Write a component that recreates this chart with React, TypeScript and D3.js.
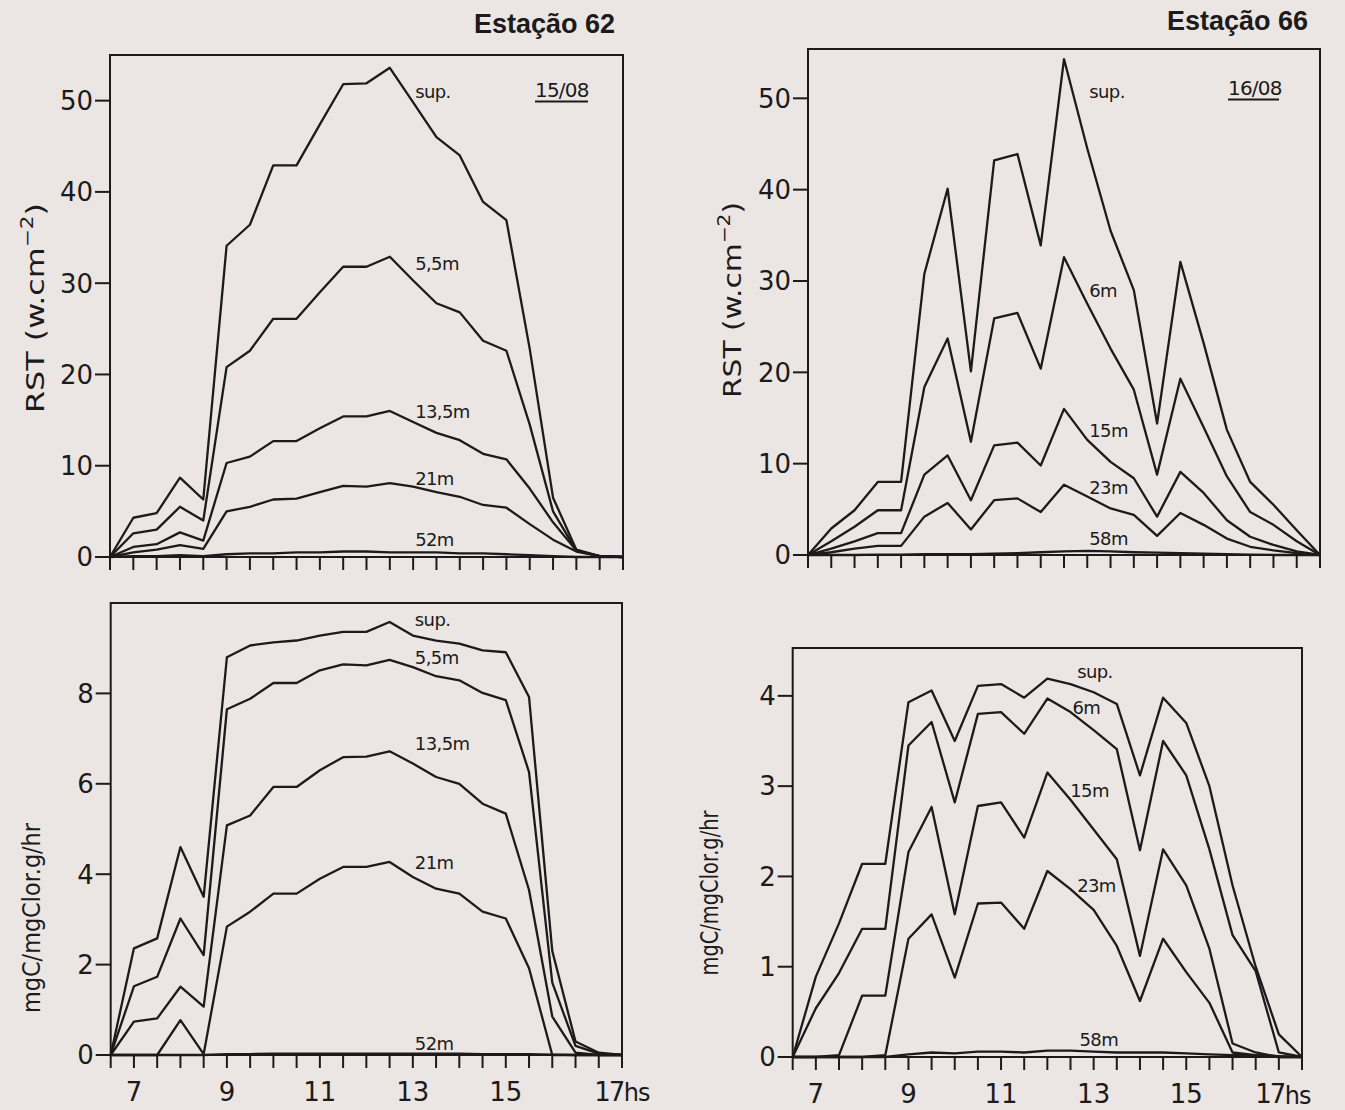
import React from "react";
import * as d3 from "d3";

// half-hour sampling times (hours)
const TIMES = [6.5, 7, 7.5, 8, 8.5, 9, 9.5, 10, 10.5, 11, 11.5, 12, 12.5, 13, 13.5, 14, 14.5, 15, 15.5, 16, 16.5, 17, 17.5];
const HOUR_LABELS = [7, 9, 11, 13, 15];

// Estação 62 - RST (w.cm-2)
const rst62Sup = [0, 4.3, 4.8, 8.7, 6.3, 34.1, 36.4, 42.9, 42.9, 47.4, 51.8, 51.9, 53.6, 49.8, 46.0, 44.0, 38.9, 36.9, 22.8, 6.5, 0.8, 0.1, 0];
const rst62M55 = [0, 2.6, 3.0, 5.5, 4.0, 20.8, 22.6, 26.1, 26.1, 29.0, 31.8, 31.8, 32.9, 30.3, 27.8, 26.8, 23.7, 22.6, 14.5, 5.0, 0.7, 0.1, 0];
const rst62M135 = [0, 1.1, 1.4, 2.7, 1.8, 10.3, 11.0, 12.7, 12.7, 14.1, 15.4, 15.4, 16.0, 14.8, 13.6, 12.8, 11.3, 10.7, 7.5, 3.8, 0.7, 0.1, 0];
const rst62M21 = [0, 0.5, 0.8, 1.3, 0.9, 5.0, 5.5, 6.3, 6.4, 7.1, 7.8, 7.7, 8.1, 7.7, 7.1, 6.6, 5.7, 5.4, 3.6, 1.9, 0.6, 0.1, 0];
const rst62M52 = [0, 0.1, 0.1, 0.2, 0.1, 0.3, 0.4, 0.4, 0.5, 0.5, 0.6, 0.6, 0.5, 0.5, 0.5, 0.4, 0.4, 0.3, 0.2, 0.1, 0, 0, 0];

// Estação 62 - mgC/mgClor.g/hr
const prod62Sup = [0, 2.36, 2.58, 4.6, 3.5, 8.8, 9.06, 9.13, 9.17, 9.28, 9.36, 9.36, 9.58, 9.28, 9.17, 9.1, 8.95, 8.91, 7.92, 2.3, 0.3, 0.05, 0];
const prod62M55 = [0, 1.52, 1.73, 3.02, 2.21, 7.65, 7.88, 8.23, 8.23, 8.51, 8.64, 8.62, 8.74, 8.58, 8.38, 8.29, 8.01, 7.85, 6.26, 1.6, 0.2, 0.03, 0];
const prod62M135 = [0, 0.74, 0.81, 1.51, 1.07, 5.08, 5.3, 5.93, 5.93, 6.3, 6.59, 6.6, 6.72, 6.45, 6.15, 6.0, 5.56, 5.34, 3.65, 0.85, 0.05, 0, 0];
const prod62M21 = [0, 0, 0, 0.77, 0.02, 2.84, 3.17, 3.57, 3.57, 3.9, 4.16, 4.16, 4.27, 3.94, 3.68, 3.57, 3.17, 3.02, 1.92, 0, 0, 0, 0];
const prod62M52 = [0, 0, 0, 0, 0, 0.02, 0.02, 0.03, 0.03, 0.03, 0.03, 0.03, 0.03, 0.03, 0.03, 0.03, 0.02, 0.02, 0.02, 0.01, 0, 0, 0];

// Estação 66 - RST (w.cm-2)
const rst66Sup = [0, 2.9, 4.9, 8.0, 8.0, 30.8, 40.1, 20.1, 43.2, 43.9, 33.9, 54.3, 44.5, 35.5, 29.0, 14.4, 32.1, 23.2, 13.7, 8.0, 5.5, 2.7, 0];
const rst66M6 = [0, 1.5, 3.1, 4.9, 4.9, 18.4, 23.7, 12.4, 25.9, 26.5, 20.4, 32.6, 27.5, 22.6, 18.1, 8.8, 19.3, 14.0, 8.6, 4.7, 3.3, 1.5, 0];
const rst66M15 = [0, 0.7, 1.5, 2.4, 2.4, 8.8, 10.9, 6.0, 12.0, 12.3, 9.8, 16.0, 12.6, 10.2, 8.4, 4.2, 9.1, 6.8, 3.8, 2.0, 1.1, 0.4, 0];
const rst66M23 = [0, 0.3, 0.7, 1.0, 1.0, 4.2, 5.7, 2.8, 6.0, 6.2, 4.7, 7.7, 6.4, 5.1, 4.4, 2.1, 4.6, 3.3, 1.8, 0.9, 0.5, 0.2, 0];
const rst66M58 = [0, 0, 0, 0.05, 0.05, 0.1, 0.1, 0.1, 0.15, 0.2, 0.3, 0.4, 0.45, 0.4, 0.3, 0.25, 0.2, 0.15, 0.1, 0.05, 0, 0, 0];

// Estação 66 - mgC/mgClor.g/hr
const prod66Sup = [0, 0.89, 1.48, 2.14, 2.14, 3.93, 4.06, 3.5, 4.11, 4.13, 3.98, 4.19, 4.13, 4.04, 3.91, 3.12, 3.98, 3.7, 3.0, 1.9, 1.0, 0.25, 0];
const prod66M6 = [0, 0.54, 0.93, 1.42, 1.42, 3.45, 3.71, 2.82, 3.8, 3.82, 3.58, 3.97, 3.82, 3.62, 3.41, 2.29, 3.5, 3.12, 2.3, 1.35, 0.95, 0.05, 0];
const prod66M15 = [0, 0, 0.02, 0.68, 0.68, 2.27, 2.77, 1.58, 2.78, 2.82, 2.43, 3.15, 2.85, 2.52, 2.19, 1.12, 2.3, 1.9, 1.2, 0.15, 0.05, 0, 0];
const prod66M23 = [0, 0, 0, 0, 0.02, 1.31, 1.58, 0.88, 1.7, 1.71, 1.42, 2.06, 1.86, 1.63, 1.23, 0.62, 1.31, 0.94, 0.6, 0.05, 0.02, 0, 0];
const prod66M58 = [0, 0, 0, 0, 0, 0.03, 0.05, 0.04, 0.06, 0.06, 0.05, 0.07, 0.07, 0.06, 0.05, 0.05, 0.05, 0.04, 0.03, 0.02, 0.02, 0.01, 0];

const RST_TICKS = [0, 10, 20, 30, 40, 50];
const PROD62_TICKS = [0, 2, 4, 6, 8];
const PROD66_TICKS = [0, 1, 2, 3, 4];

const INK = "#1c1a1a";
const PAPER = "#ebe6e4";
const NUM_FONT = "'DejaVu Sans', sans-serif";

// series with the (time, value) where each depth label sits
const panels = [
  {
    box: { left: 110, right: 623, top: 55, bottom: 557 },
    yMax: 55, ticks: RST_TICKS, labelsBelow: false,
    series: [
      { name: "sup.", values: rst62Sup, at: [13, 50.3] },
      { name: "5,5m", values: rst62M55, at: [13, 31.4] },
      { name: "13,5m", values: rst62M135, at: [13, 15.2] },
      { name: "21m", values: rst62M21, at: [13, 7.9] },
      { name: "52m", values: rst62M52, at: [13, 1.2] },
    ],
  },
  {
    box: { left: 110.7, right: 622, top: 603, bottom: 1055 },
    yMax: 10, ticks: PROD62_TICKS, labelsBelow: true,
    series: [
      { name: "sup.", values: prod62Sup, at: [13, 9.5] },
      { name: "5,5m", values: prod62M55, at: [13, 8.65] },
      { name: "13,5m", values: prod62M135, at: [13, 6.75] },
      { name: "21m", values: prod62M21, at: [13, 4.11] },
      { name: "52m", values: prod62M52, at: [13, 0.12] },
    ],
  },
  {
    box: { left: 808, right: 1320, top: 49, bottom: 555 },
    yMax: 55.4, ticks: RST_TICKS, labelsBelow: false,
    series: [
      { name: "sup.", values: rst66Sup, at: [12.5, 50.0] },
      { name: "6m", values: rst66M6, at: [12.5, 28.2] },
      { name: "15m", values: rst66M15, at: [12.5, 12.9] },
      { name: "23m", values: rst66M23, at: [12.5, 6.7] },
      { name: "58m", values: rst66M58, at: [12.5, 1.1] },
    ],
  },
  {
    box: { left: 792.7, right: 1302, top: 648, bottom: 1057 },
    yMax: 4.53, ticks: PROD66_TICKS, labelsBelow: true,
    series: [
      { name: "sup.", values: prod66Sup, at: [12.6, 4.2] },
      { name: "6m", values: prod66M6, at: [12.5, 3.8] },
      { name: "15m", values: prod66M15, at: [12.45, 2.88] },
      { name: "23m", values: prod66M23, at: [12.6, 1.83] },
      { name: "58m", values: prod66M58, at: [12.65, 0.12] },
    ],
  },
];

function Panel({ p }) {
  const { left, right, top, bottom } = p.box;
  const x = d3.scaleLinear().domain([6.5, 17.5]).range([left, right]);
  const y = d3.scaleLinear().domain([0, p.yMax]).range([bottom, top]);
  const line = d3
    .line<number>()
    .x((_, i) => x(TIMES[i]))
    .y((v) => y(v));
  const isRight = left > 700;
  const labelY = bottom + (isRight ? 46 : 46);

  return (
    <g>
      {/* frame */}
      <path
        d={`M${left},${bottom}V${top}H${right}V${bottom}H${left}`}
        fill="none"
        stroke={INK}
        strokeWidth={2}
      />
      {/* x ticks */}
      {TIMES.map((t) => (
        <line key={t} x1={x(t)} x2={x(t)} y1={bottom} y2={bottom + 13} stroke={INK} strokeWidth={2} />
      ))}
      {/* y ticks */}
      {p.ticks.map((v) => (
        <g key={v}>
          <line x1={left - 15} x2={left} y1={y(v)} y2={y(v)} stroke={INK} strokeWidth={2} />
          <text
            x={left - 17}
            y={y(v)}
            dy="0.36em"
            textAnchor="end"
            fontFamily={NUM_FONT}
            fontSize={26}
            fill={INK}
          >
            {v}
          </text>
        </g>
      ))}
      {/* series */}
      {p.series.map((s) => (
        <path
          key={s.name}
          d={line(s.values) || ""}
          fill="none"
          stroke={INK}
          strokeWidth={2.3}
          strokeLinejoin="round"
        />
      ))}
      {p.series.map((s) => (
        <text
          key={s.name + "-lab"}
          x={x(s.at[0]) + 2}
          y={y(s.at[1])}
          fontFamily={NUM_FONT}
          fontSize={18}
          letterSpacing={-0.6}
          fill={INK}
        >
          {s.name}
        </text>
      ))}
      {/* hour labels */}
      {p.labelsBelow &&
        HOUR_LABELS.map((h) => (
          <text
            key={h}
            x={x(h)}
            y={labelY}
            textAnchor="middle"
            fontFamily={NUM_FONT}
            fontSize={26}
            fill={INK}
          >
            {h}
          </text>
        ))}
      {p.labelsBelow && (
        <>
          <text
            x={isRight ? x(17) - 9 : x(17) + 10}
            y={labelY}
            textAnchor="middle"
            fontFamily={NUM_FONT}
            fontSize={26}
            letterSpacing={-2}
            fill={INK}
          >
            17
          </text>
          <text
            x={isRight ? x(17) + 6 : x(17) + 25}
            y={labelY + (isRight ? 1 : 0)}
            fontFamily={NUM_FONT}
            fontSize={24}
            letterSpacing={-1}
            fill={INK}
          >
            hs
          </text>
        </>
      )}
    </g>
  );
}

function AxisTitle({ x, y, length, children }) {
  return (
    <text
      transform={`translate(${x},${y}) rotate(-90)`}
      textAnchor="middle"
      fontFamily={NUM_FONT}
      fontSize={25}
      fill={INK}
      textLength={length}
      lengthAdjust="spacingAndGlyphs"
    >
      {children}
    </text>
  );
}

export default function App() {
  return (
    <div style={{ position: "absolute", left: 0, top: 0 }}>
      <svg width={1345} height={1110} style={{ display: "block" }}>
        <rect width={1345} height={1110} fill={PAPER} />
        {panels.map((p, i) => (
          <Panel key={i} p={p} />
        ))}

        {/* station titles */}
        <text x={615} y={33} textAnchor="end" fontFamily="'Liberation Sans', Arial, sans-serif" fontWeight="bold" fontSize={27} fill={INK}>
          Estação 62
        </text>
        <text x={1308} y={30} textAnchor="end" fontFamily="'Liberation Sans', Arial, sans-serif" fontWeight="bold" fontSize={27} fill={INK}>
          Estação 66
        </text>

        {/* dates */}
        <text x={535} y={97} fontFamily={NUM_FONT} fontSize={20} letterSpacing={-0.8} fill={INK}>15/08</text>
        <line x1={535} x2={588} y1={101.5} y2={101.5} stroke={INK} strokeWidth={2} />
        <text x={1228} y={95} fontFamily={NUM_FONT} fontSize={20} letterSpacing={-0.8} fill={INK}>16/08</text>
        <line x1={1228} x2={1279} y1={99.5} y2={99.5} stroke={INK} strokeWidth={2} />

        {/* y axis titles */}
        <AxisTitle x={44} y={308} length={210}>
          RST (w.cm<tspan dy={-11} fontSize={17}>−2</tspan><tspan dy={11}>)</tspan>
        </AxisTitle>
        <AxisTitle x={741} y={300} length={196}>
          RST (w.cm<tspan dy={-11} fontSize={17}>−2</tspan><tspan dy={11}>)</tspan>
        </AxisTitle>
        <AxisTitle x={40} y={918} length={190}>
          mgC/mgClor.g/hr
        </AxisTitle>
        <AxisTitle x={718} y={893} length={165}>
          mgC/mgClor.g/hr
        </AxisTitle>
      </svg>
    </div>
  );
}
